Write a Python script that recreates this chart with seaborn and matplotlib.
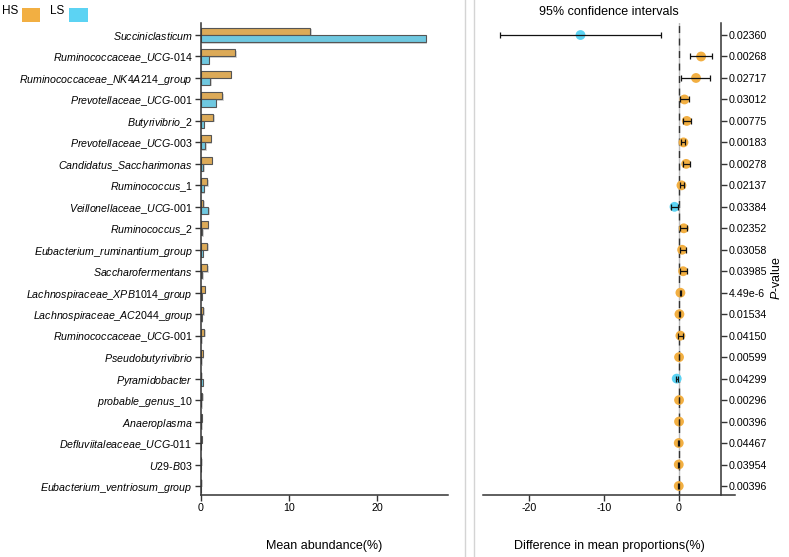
import re
import numpy as np
import pandas as pd
import matplotlib
matplotlib.use("Agg")
import matplotlib.pyplot as plt
import matplotlib.patheffects as pe
from matplotlib.patches import Rectangle
from matplotlib.lines import Line2D
import seaborn as sns

# genera, top to bottom
genera = [
    "Succiniclasticum", "Ruminococcaceae_UCG-014", "Ruminococcaceae_NK4A214_group",
    "Prevotellaceae_UCG-001", "Butyrivibrio_2", "Prevotellaceae_UCG-003",
    "Candidatus_Saccharimonas", "Ruminococcus_1", "Veillonellaceae_UCG-001",
    "Ruminococcus_2", "Eubacterium_ruminantium_group", "Saccharofermentans",
    "Lachnospiraceae_XPB1014_group", "Lachnospiraceae_AC2044_group",
    "Ruminococcaceae_UCG-001", "Pseudobutyrivibrio", "Pyramidobacter",
    "probable_genus_10", "Anaeroplasma", "Defluviitaleaceae_UCG-011",
    "U29-B03", "Eubacterium_ventriosum_group",
]
hs_mean = [12.4, 3.9, 3.37, 2.42, 1.4, 1.1, 1.21, 0.72, 0.27, 0.76, 0.72,
           0.72, 0.42, 0.27, 0.38, 0.19, 0.02, 0.15, 0.11, 0.08, 0.04, 0.04]
ls_mean = [25.5, 0.91, 1.06, 1.67, 0.34, 0.49, 0.27, 0.34, 0.83, 0.15, 0.19,
           0.15, 0.08, 0.11, 0.04, 0.04, 0.19, 0.03, 0.02, 0.01, 0.01, 0.01]
diff = [-13.1, 2.98, 2.3, 0.76, 1.07, 0.63, 0.98, 0.36, -0.57, 0.67, 0.45,
        0.58, 0.22, 0.09, 0.22, 0.04, -0.27, 0.04, 0.04, 0.0, 0.0, 0.0]
ci_low = [-23.8, 1.5, 0.36, 0.23, 0.53, 0.3, 0.53, 0.1, -1.07, 0.23, 0.1,
          0.14, 0.17, 0.04, -0.1, 0.0, -0.42, 0.0, 0.0, -0.04, -0.04, -0.04]
ci_high = [-2.4, 4.4, 4.2, 1.33, 1.6, 0.8, 1.47, 0.76, -0.13, 1.16, 0.98,
           1.07, 0.27, 0.14, 0.53, 0.08, -0.12, 0.08, 0.08, 0.04, 0.04, 0.04]
p_values = ["0.02360", "0.00268", "0.02717", "0.03012", "0.00775", "0.00183",
            "0.00278", "0.02137", "0.03384", "0.02352", "0.03058", "0.03985",
            "4.49e-6", "0.01534", "0.04150", "0.00599", "0.04299", "0.00296",
            "0.00396", "0.04467", "0.03954", "0.00396"]

orange = "#F2AF42"
blue = "#5CD3F3"

plt.rcParams["font.family"] = ["Liberation Sans", "DejaVu Sans"]
plt.rcParams["mathtext.fontset"] = "custom"
plt.rcParams["mathtext.rm"] = "Liberation Sans"
plt.rcParams["mathtext.it"] = "Liberation Sans:italic"
plt.rcParams["axes.unicode_minus"] = False


def fmt(name):
    # letters italic, digits/hyphens upright
    out = ""
    for p in re.findall(r"[A-Za-z_]+|[^A-Za-z_]+", name):
        if re.match(r"[A-Za-z_]", p):
            out += r"$\mathit{" + p.replace("_", r"\_") + "}$"
        else:
            out += p
    return out


n = len(genera)
df = pd.DataFrame({
    "genus": genera * 2,
    "value": hs_mean + ls_mean,
    "group": ["HS"] * n + ["LS"] * n,
})

fig = plt.figure(figsize=(7.89, 5.57), dpi=100)
ax1 = fig.add_axes([201 / 789, 62 / 557, 247 / 789, 472 / 557])
ax2 = fig.add_axes([483 / 789, 62 / 557, 252 / 789, 472 / 557])

fs = 7.7
spine_c = "#333333"

# left: mean abundance
sns.barplot(data=df, x="value", y="genus", hue="group", orient="h",
            palette={"HS": orange, "LS": blue}, width=0.66,
            edgecolor="#555555", linewidth=0.8, legend=False, ax=ax1)
for p in ax1.patches:
    p.set_path_effects([pe.SimplePatchShadow(offset=(1, -1), shadow_rgbFace="#888888", alpha=0.35),
                        pe.Normal()])
ax1.set_xlim(0, 28)
ax1.set_ylim(21.42, -0.56)
ax1.set_xticks([0, 10, 20])
ax1.set_yticks(range(n), labels=[fmt(g) for g in genera])
ax1.set_xlabel("Mean abundance(%)", fontsize=9, labelpad=19)
ax1.set_ylabel("")
for s in ["top", "right"]:
    ax1.spines[s].set_visible(False)
for s in ["left", "bottom"]:
    ax1.spines[s].set_color(spine_c)
    ax1.spines[s].set_linewidth(1.1)
ax1.tick_params(axis="both", labelsize=fs, length=4, width=1, color=spine_c, pad=2)

# right: difference with 95% CI
pos = np.arange(n)
grp = ["HS" if d >= 0 else "LS" for d in diff]
ax2.axvline(0, color="#bbbbbb", lw=1, zorder=0)
ax2.axvline(0, color="#333333", lw=1, ls=(0, (5, 4)), zorder=1)
sns.scatterplot(x=diff, y=pos, hue=grp, palette={"HS": orange, "LS": blue},
                s=50, edgecolor="none", legend=False, zorder=2, ax=ax2)
err = [np.array(diff) - np.array(ci_low), np.array(ci_high) - np.array(diff)]
ax2.errorbar(diff, pos, xerr=err, fmt="none", ecolor="#111111", elinewidth=0.9,
             capsize=2, capthick=0.9, zorder=3)
ax2.set_xlim(-26.1, 7.5)
ax2.set_ylim(21.42, -0.56)
ax2.set_xticks([-20, -10, 0])
ax2.yaxis.tick_right()
ax2.set_yticks(pos, labels=p_values)
ax2.spines["right"].set_position(("data", 5.6))
for s in ["top", "left"]:
    ax2.spines[s].set_visible(False)
for s in ["right", "bottom"]:
    ax2.spines[s].set_color(spine_c)
    ax2.spines[s].set_linewidth(1.1)
ax2.tick_params(axis="both", labelsize=fs, length=4, width=1, color=spine_c, pad=2)
ax2.set_xlabel("Difference in mean proportions(%)", fontsize=9, labelpad=19)
ax2.set_title("95% confidence intervals", fontsize=9, pad=6)
ax2.yaxis.set_label_position("right")
ax2.set_ylabel(r"$\mathit{P}$-value", fontsize=9)
ax2.yaxis.set_label_coords(1.14, 0.46)

# separators
for xp in [465, 474]:
    fig.add_artist(Line2D([xp / 789, xp / 789], [0, 1], color="#d4d4d4", lw=1,
                          transform=fig.transFigure))

# legend
fig.text(2 / 789, 1 - 11 / 557, "HS", fontsize=8.5, va="center", ha="left")
fig.text(50 / 789, 1 - 11 / 557, "LS", fontsize=8.5, va="center", ha="left")
fig.add_artist(Rectangle((22 / 789, 1 - 22 / 557), 18 / 789, 14 / 557,
                         facecolor=orange, edgecolor="none", transform=fig.transFigure))
fig.add_artist(Rectangle((69 / 789, 1 - 22 / 557), 19 / 789, 14 / 557,
                         facecolor=blue, edgecolor="none", transform=fig.transFigure))

fig.savefig("out.png", dpi=100)
